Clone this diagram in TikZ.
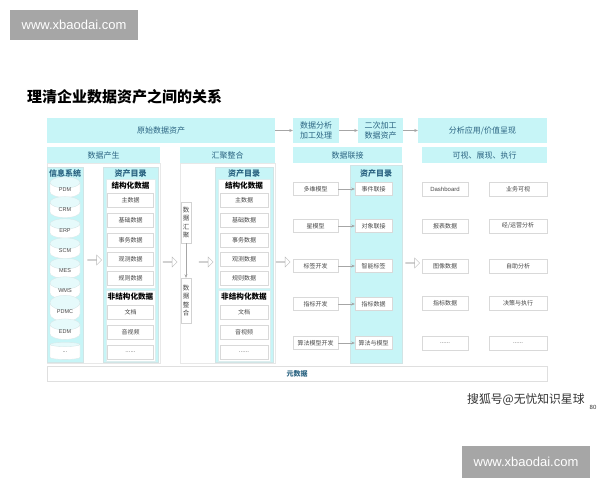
\documentclass[tikz,border=0pt]{standalone}
\usepackage{fontspec}
\setmainfont{Noto Sans CJK SC}
\newfontfamily\latin{Liberation Sans}
\usetikzlibrary{shapes.geometric,shapes.arrows,arrows.meta}
\newcommand\mythreedots{...}
\newcommand\mysixdots{......}
\definecolor{aqua}{HTML}{C7F5F7}
\definecolor{hdr}{HTML}{2B6482}
\definecolor{txt}{HTML}{484848}
\definecolor{wm}{HTML}{A6A6A6}
\tikzset{
  fs/.style={font=\fontsize{#1}{#1}\selectfont},
  band/.style={fill=aqua, draw=none, text=hdr, inner sep=0, align=center, fs=8},
  colbox/.style={fill=aqua, draw=aqua!70!gray!60, line width=0.3pt, inner sep=0},
  inner/.style={fill=white, draw=aqua!80!gray!50, line width=0.3pt, inner sep=0},
  sub/.style={fill=white, draw=gray!30, line width=0.4pt, inner sep=0, text=txt, fs=6, minimum height=14pt},
  chead/.style={text=hdr, font=\bfseries\fontsize{8}{8}\selectfont, inner sep=0},
  khead/.style={text=black, font=\bfseries\fontsize{7.6}{7.6}\selectfont, inner sep=0},
  cyl/.style={cylinder, shape border rotate=90, aspect=0.9, draw=aqua!60!gray!45, cylinder uses custom fill, cylinder body fill=white, cylinder end fill=aqua!45, line width=0.3pt, minimum width=30pt, minimum height=17pt, inner sep=0, text=txt, font=\latin\fontsize{5.5}{5.5}\selectfont},
  hollow/.style={single arrow, draw=gray!55, fill=white, line width=0.4pt, minimum height=14pt, minimum width=10pt, single arrow head extend=2.5pt, inner sep=0},
  frame/.style={draw=gray!18, line width=0.4pt},
  conn/.style={draw=gray!70, line width=0.4pt, -{Stealth[length=3.5pt,width=3pt]}},
  vbox/.style={fill=white, draw=gray!35, line width=0.4pt, inner sep=0, text=txt, align=center, font=\fontsize{6.5}{8.5}\selectfont},
  wmbox/.style={fill=wm, draw=none, text=white, font=\latin\fontsize{13}{13}\selectfont, inner sep=0}
}
\begin{document}
\begin{tikzpicture}[x=1pt,y=-1pt]
\useasboundingbox[fill=white] (0,0) rectangle (600,480);

% watermarks
\node[wmbox, minimum width=128pt, minimum height=30pt] (wmtop) at (74,25) {www.xbaodai.com};
\node[wmbox, minimum width=128pt, minimum height=32pt] (wmbot) at (526,462) {www.xbaodai.com};

% title
\node[anchor=west, inner sep=0, font=\bfseries\fontsize{15}{15}\selectfont] (title) at (27,97) {理清企业数据资产之间的关系};

% section frames
\draw[frame] (47,163) rectangle (160,363);
\draw[frame] (180,163) rectangle (275,363);

% top row
\node[band, minimum width=228pt, minimum height=25pt] (raw) at (161,130.5) {原始数据资产};
\node[band, minimum width=46pt, minimum height=25pt, font=\fontsize{8}{10}\selectfont] (proc) at (316,130.5) {数据分析\\加工处理};
\node[band, minimum width=45pt, minimum height=25pt, font=\fontsize{8}{10}\selectfont] (sec) at (380.5,130.5) {二次加工\\数据资产};
\node[band, minimum width=129pt, minimum height=25pt] (app) at (482.5,130.5) {分析应用/价值呈现};
\draw[conn] (raw.east) -- (proc.west);
\draw[conn] (proc.east) -- (sec.west);
\draw[conn] (sec.east) -- (app.west);

% second row
\node[band, minimum width=113pt, minimum height=16pt] (gen) at (103.5,155) {数据产生};
\node[band, minimum width=95pt, minimum height=16pt] (agg) at (227.5,155) {汇聚整合};
\node[band, minimum width=109pt, minimum height=16pt] (link) at (347.5,155) {数据联接};
\node[band, minimum width=125pt, minimum height=16pt] (vis) at (484.5,155) {可视、展现、执行};

% info systems column
\node[colbox, minimum width=36pt, minimum height=195pt] (info) at (65,264.5) {};
\node[chead] (infoh) at (65,173) {信息系统};
\foreach \n/\y/\t in {c1/190/PDM, c2/210/CRM, c3/231/ERP, c4/251/SCM, c5/271/MES, c6/291/WMS, c7/312/PDMC, c8/332/EDM, c9/352/\mythreedots}
  \node[cyl] (\n) at (65,\y) {\t};

% catalogue 1
\node[colbox, minimum width=55pt, minimum height=195pt] (cat1) at (130.5,264.5) {};
\node[chead] (cat1h) at (130.5,173) {资产目录};
\node[inner, minimum width=49pt, minimum height=109pt] (cat1s) at (130.5,233.5) {};
\node[inner, minimum width=49pt, minimum height=71pt] (cat1u) at (130.5,325.5) {};
\node[khead] (cat1sh) at (130.5,186) {结构化数据};
\node[khead] (cat1uh) at (130.5,297) {非结构化数据};
\foreach \n/\y/\t in {a1/200/主数据, a2/220/基础数据, a3/240/事务数据, a4/259/观测数据, a5/278/规则数据, a6/312/文档, a7/332/音视频, a8/352/\mysixdots}
  \node[sub, minimum width=46pt] (\n) at (130.5,\y) {\t};

% catalogue 2
\node[colbox, minimum width=58pt, minimum height=195pt] (cat2) at (244,264.5) {};
\node[chead] (cat2h) at (244,173) {资产目录};
\node[inner, minimum width=52pt, minimum height=109pt] (cat2s) at (244,233.5) {};
\node[inner, minimum width=52pt, minimum height=71pt] (cat2u) at (244,325.5) {};
\node[khead] (cat2sh) at (244,186) {结构化数据};
\node[khead] (cat2uh) at (244,297) {非结构化数据};
\foreach \n/\y/\t in {b1/200/主数据, b2/220/基础数据, b3/240/事务数据, b4/259/观测数据, b5/278/规则数据, b6/312/文档, b7/332/音视频, b8/352/\mysixdots}
  \node[sub, minimum width=48pt] (\n) at (244,\y) {\t};

% aggregation boxes
\node[vbox, minimum width=10pt, minimum height=41pt] (hj) at (186,222.5) {数\\据\\汇\\聚};
\node[vbox, minimum width=10pt, minimum height=45pt] (zh) at (186,300.5) {数\\据\\整\\合};
\draw[conn] (hj.south) -- (zh.north);

% catalogue 3 (linking)
\node[colbox, minimum width=52pt, minimum height=198pt] (cat3) at (376,264) {};
\node[chead] (cat3h) at (376,173) {资产目录};
\foreach \n/\m/\y/\l/\r in {l1/r1/189/多维模型/事件联接, l2/r2/226/星模型/对象联接, l3/r3/266/标签开发/智能标签, l4/r4/304/指标开发/指标数据, l5/r5/343/算法模型开发/算法与模型}{
  \node[sub, minimum width=45pt, minimum height=13pt] (\n) at (315.5,\y) {\l};
  \node[sub, minimum width=37pt, minimum height=13pt] (\m) at (373.5,\y) {\r};
  \draw[conn] (\n.east) -- (\m.west);
}

% application column
\foreach \n/\m/\y/\l/\r in {p1/q1/189/{\latin Dashboard}/业务可视, p2/q2/226/报表数据/{经/运营分析}, p3/q3/266/图像数据/自助分析, p4/q4/303/指标数据/决策与执行, p5/q5/343/\mysixdots/\mysixdots}{
  \node[sub, minimum width=46pt, minimum height=14pt] (\n) at (445,\y) {\l};
  \node[sub, minimum width=58pt, minimum height=14pt] (\m) at (518,\y) {\r};
}

% hollow arrows
\node[hollow] (h1) at (94.5,260) {};
\node[hollow] (h2) at (170,262) {};
\node[hollow] (h3) at (206,262) {};
\node[hollow] (h4) at (283,262) {};
\node[hollow] (h5) at (412.5,263) {};

% metadata
\node[fill=white, draw=gray!25, line width=0.4pt, minimum width=500pt, minimum height=15pt, inner sep=0, text=hdr, font=\bfseries\fontsize{7}{7}\selectfont] (meta) at (297,373.5) {元数据};

% source mark
\node[anchor=west, inner sep=0, text=black!80, font=\fontsize{11.8}{11.8}\selectfont] (src) at (467,400) {搜狐号@无忧知识星球};
\node[inner sep=0, text=black!80, font=\latin\fontsize{6}{6}\selectfont] (pg) at (593,407.5) {80};
\end{tikzpicture}
\end{document}
